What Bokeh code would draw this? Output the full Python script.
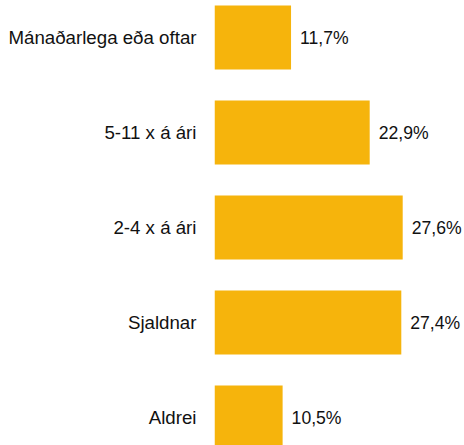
from bokeh.plotting import figure
from bokeh.models import Range1d, FixedTicker, ColumnDataSource
from bokeh.core.properties import value
from bokeh.embed import file_html
from bokeh.resources import INLINE

categories = ["Mánaðarlega eða oftar", "5-11 x á ári", "2-4 x á ári", "Sjaldnar", "Aldrei"]
percent = [11.7, 22.9, 27.6, 27.4, 10.5]
labels = ["11,7%", "22,9%", "27,6%", "27,4%", "10,5%"]

FONT = "Liberation Sans"
FS = "18.7px"
FS_VAL = "17.6px"
BAR = "#F6B40C"

n = len(categories)
ypos = [n - 1 - i for i in range(n)]
src = ColumnDataSource(dict(y=ypos, v=percent, lab=labels))

p = figure(width=464, height=445, output_backend="svg", toolbar_location=None,
           x_axis_location=None, y_range=Range1d(-0.295, 4.389), x_range=Range1d(0.8, 36.4),
           min_border_left=214, min_border_right=0, min_border_top=0, min_border_bottom=0)

p.hbar(y="y", right="v", left=0, height=0.674, source=src, fill_color=BAR, line_color=None)
p.text(x="v", y="y", text="lab", source=src, x_offset=9, y_offset=1, text_baseline="middle",
       text_align="left", text_font=value(FONT), text_font_size=FS_VAL, text_color="#111111")

p.yaxis.ticker = FixedTicker(ticks=ypos)
p.yaxis.major_label_overrides = {y: c for y, c in zip(ypos, categories)}
p.yaxis.axis_line_color = None
p.yaxis.major_tick_line_color = None
p.yaxis.minor_tick_line_color = None
p.yaxis.major_tick_in = 0
p.yaxis.major_tick_out = 0
p.yaxis.major_label_standoff = 18
p.yaxis.major_label_text_font = FONT
p.yaxis.major_label_text_font_size = FS
p.yaxis.major_label_text_color = "#111111"

p.xgrid.visible = False
p.ygrid.visible = False
p.outline_line_color = None
p.background_fill_color = "white"
p.border_fill_color = "white"

open("out.html", "w").write(file_html(p, INLINE))
